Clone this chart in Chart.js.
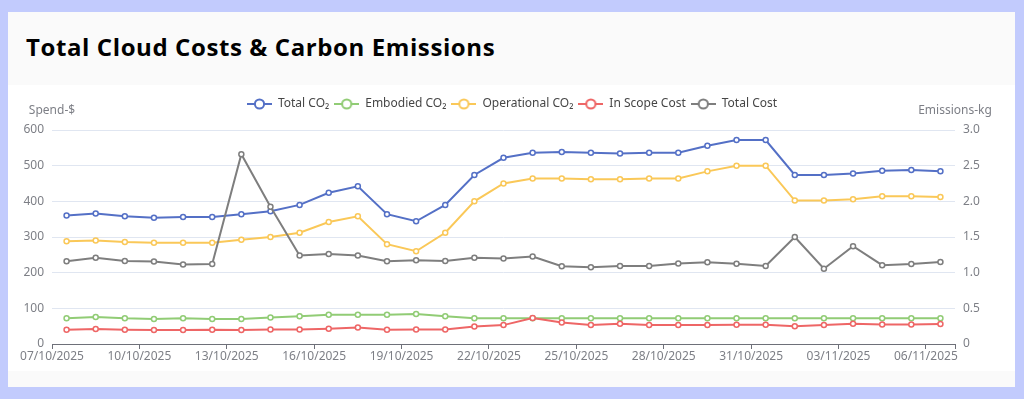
<!DOCTYPE html>
<html>
<head>
<meta charset="utf-8">
<script src="https://cdn.jsdelivr.net/npm/chart.js@4.4.1/dist/chart.umd.min.js"></script>
<style>
html,body{margin:0;padding:0;width:1024px;height:399px;overflow:hidden;background:#c2cbfd;}
#card{position:absolute;left:8px;top:12px;width:1007px;height:375px;background:#fafafa;}
#inner{position:absolute;left:8px;top:85px;width:1007px;height:286px;background:#ffffff;}
#title{position:absolute;left:26px;top:35px;font:bold 24px "Open Sans",sans-serif;letter-spacing:0.6px;line-height:24px;color:#000;white-space:nowrap;}
#wrap{position:absolute;left:0;top:0;width:1024px;height:399px;}
</style>
</head>
<body>
<div id="card"></div>
<div id="inner"></div>
<div id="title">Total Cloud Costs &amp; Carbon Emissions</div>
<div id="wrap"><canvas id="c" width="1024" height="399"></canvas></div>
<script>
// ---- data ----
const dates = ["07/10/2025","08/10/2025","09/10/2025","10/10/2025","11/10/2025","12/10/2025","13/10/2025","14/10/2025","15/10/2025","16/10/2025","17/10/2025","18/10/2025","19/10/2025","20/10/2025","21/10/2025","22/10/2025","23/10/2025","24/10/2025","25/10/2025","26/10/2025","27/10/2025","28/10/2025","29/10/2025","30/10/2025","31/10/2025","01/11/2025","02/11/2025","03/11/2025","04/11/2025","05/11/2025","06/11/2025"];
const tickDates = ["07/10/2025","10/10/2025","13/10/2025","16/10/2025","19/10/2025","22/10/2025","25/10/2025","28/10/2025","31/10/2025","03/11/2025","06/11/2025"];
const totalCO2 = [1.80,1.83,1.79,1.77,1.78,1.78,1.82,1.86,1.95,2.12,2.21,1.82,1.72,1.95,2.37,2.61,2.68,2.69,2.68,2.67,2.68,2.68,2.78,2.86,2.86,2.37,2.37,2.39,2.43,2.44,2.42];
const embodiedCO2 = [0.36,0.38,0.36,0.35,0.36,0.35,0.35,0.37,0.39,0.41,0.41,0.41,0.42,0.39,0.36,0.36,0.36,0.36,0.36,0.36,0.36,0.36,0.36,0.36,0.36,0.36,0.36,0.36,0.36,0.36,0.36];
const operationalCO2 = [1.44,1.45,1.43,1.42,1.42,1.42,1.46,1.50,1.56,1.71,1.79,1.40,1.30,1.56,2.00,2.25,2.32,2.32,2.31,2.31,2.32,2.32,2.42,2.50,2.50,2.01,2.01,2.03,2.07,2.07,2.06];
const inScopeCost = [40,42,40,39,39,40,39,41,41,43,46,40,41,41,49,53,73,60,53,57,53,53,53,54,54,50,53,57,55,55,56];
const totalCost = [232,242,233,231,223,224,532,385,248,252,248,232,235,233,242,240,245,218,215,219,219,226,229,225,219,300,211,274,221,224,230];
const spendTicks = [0,100,200,300,400,500,600];
const emissionTicks = [0,0.5,1,1.5,2,2.5,3];

// ---- helpers ----
const FONT = '"Noto Sans", "Open Sans", sans-serif';
const toPoints = arr => arr.map((v, i) => ({x: i + 0.5, y: v}));
function legendIcon(color) {
  const c = document.createElement('canvas');
  c.width = 25; c.height = 14;
  const g = c.getContext('2d');
  g.strokeStyle = color; g.lineWidth = 2;
  g.beginPath(); g.moveTo(0, 7); g.lineTo(25, 7); g.stroke();
  g.beginPath(); g.arc(12.5, 7, 4.6, 0, Math.PI * 2);
  g.fillStyle = '#fff'; g.fill(); g.stroke();
  return c;
}
function ds(label, data, color, axis, order) {
  return {
    label, data: toPoints(data), yAxisID: axis, order,
    borderColor: color, backgroundColor: '#fff', borderWidth: 2,
    pointRadius: 2.5, pointBorderWidth: 1.5, pointBackgroundColor: '#fff', pointBorderColor: color,
    pointHoverRadius: 3, tension: 0, legendIcon: legendIcon(color)
  };
}

const legendHeight = {
  id: 'legendHeight',
  beforeLayout(chart) {
    const lg = chart.legend;
    if (lg && !lg.__patched) {
      const orig = lg.fit;
      lg.fit = function () { orig.call(this); this.height = 37; };
      lg.__patched = true;
    }
  }
};
const axisNames = {
  id: 'axisNames',
  afterDraw(chart) {
    const {ctx, chartArea} = chart;
    ctx.save();
    ctx.font = '12px ' + FONT;
    ctx.fillStyle = '#7d7f86';
    ctx.textAlign = 'center';
    ctx.textBaseline = 'middle';
    ctx.fillText('Spend-$', chartArea.left, 111);
    ctx.fillText('Emissions-kg', chartArea.right, 111);
    ctx.restore();
  }
};

new Chart(document.getElementById('c'), {
  type: 'line',
  data: {
    datasets: [
      ds('Total CO\u2082', totalCO2, '#5470c6', 'y1', 5),
      ds('Embodied CO\u2082', embodiedCO2, '#91cc75', 'y1', 4),
      ds('Operational CO\u2082', operationalCO2, '#fac858', 'y1', 3),
      ds('In Scope Cost', inScopeCost, '#ee6666', 'y', 2),
      ds('Total Cost', totalCost, '#7e7e7e', 'y', 1)
    ]
  },
  options: {
    responsive: false,
    animation: false,
    events: [],
    layout: {padding: {top: 93, left: 0, right: 0, bottom: 0}},
    plugins: {
      tooltip: {enabled: false},
      legend: {
        display: true,
        position: 'top',
        align: 'center',
        labels: {
          usePointStyle: true,
          pointStyleWidth: 25,
          padding: 5,
          color: '#464646',
          font: {family: FONT, size: 12},
          sort: (a, b) => a.datasetIndex - b.datasetIndex,
          generateLabels(chart) {
            const items = Chart.defaults.plugins.legend.labels.generateLabels(chart);
            items.forEach(it => { it.pointStyle = chart.data.datasets[it.datasetIndex].legendIcon; });
            return items;
          }
        }
      }
    },
    scales: {
      x: {
        type: 'linear', min: 0, max: dates.length,
        afterBuildTicks(scale) {
          const t = [];
          for (let i = 0; i < dates.length; i += 3) t.push({value: i});
          t.push({value: dates.length});
          scale.ticks = t;
        },
        afterFit(scale) { scale.height = 55; },
        border: {display: true, color: '#6e7079', width: 1},
        grid: {drawOnChartArea: false, drawTicks: true, tickLength: 5, color: '#6e7079'},
        ticks: {
          autoSkip: false, maxRotation: 0, padding: 0, color: '#7d7f86',
          font: {family: FONT, size: 12},
          callback(v) { const d = dates[v]; return d && tickDates.includes(d) ? d : ''; }
        }
      },
      y: {
        type: 'linear', position: 'left', min: 0, max: 600,
        afterBuildTicks(scale) { scale.ticks = spendTicks.map(v => ({value: v})); },
        afterFit(scale) { scale.width = 52; },
        border: {display: false},
        grid: {color: '#e0e6f1', lineWidth: 1, drawTicks: false},
        ticks: {padding: 8, color: '#7d7f86', font: {family: FONT, size: 12}}
      },
      y1: {
        type: 'linear', position: 'right', min: 0, max: 3,
        afterBuildTicks(scale) { scale.ticks = emissionTicks.map(v => ({value: v})); },
        afterFit(scale) { scale.width = 69; },
        border: {display: false},
        grid: {drawOnChartArea: false, drawTicks: false},
        ticks: {padding: 8, color: '#7d7f86', font: {family: FONT, size: 12}}
      }
    }
  },
  plugins: [legendHeight, axisNames]
});
</script>
</body>
</html>
